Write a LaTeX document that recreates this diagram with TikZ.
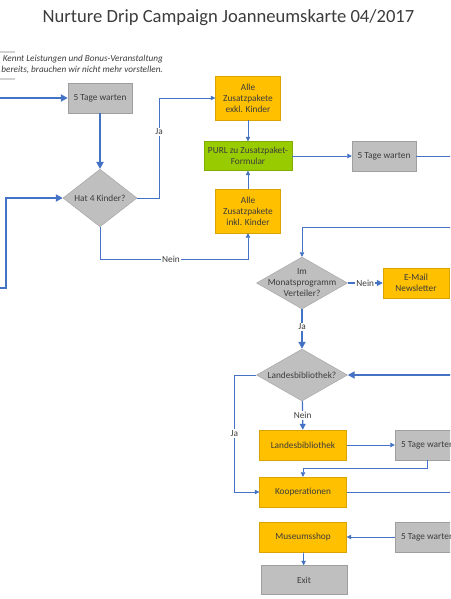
\documentclass[tikz,border=0pt]{standalone}
\usepackage{fontspec}
\setmainfont{Carlito}
\usetikzlibrary{shapes.geometric,arrows.meta}

\definecolor{lineblue}{RGB}{68,114,196}
\definecolor{boxyellow}{RGB}{255,192,0}
\definecolor{boxgray}{RGB}{191,191,191}
\definecolor{boxgreen}{RGB}{153,204,0}
\definecolor{textgray}{RGB}{60,60,60}

\begin{document}
\begin{tikzpicture}[x=1pt,y=-1pt,font=\fontsize{9.3}{11}\selectfont,text=textgray]

    \tikzstyle{waitbox}=[rectangle,draw=gray!75,fill=boxgray,minimum width=64pt,minimum height=30pt,inner sep=1pt]
    \tikzstyle{offerbox}=[rectangle,draw=boxyellow!85!black,fill=boxyellow,minimum width=87pt,minimum height=30pt,inner sep=1pt,align=center]
    \tikzstyle{purlbox}=[rectangle,draw=boxgreen!85!black,fill=boxgreen,minimum width=88pt,minimum height=29pt,inner sep=1pt,align=center]
    \tikzstyle{decision}=[diamond,draw=gray!75,fill=boxgray,minimum width=91pt,minimum height=52pt,inner sep=0pt,align=center]
    \tikzstyle{flow}=[draw=lineblue,line width=0.7pt,-{Triangle[length=4.5pt,width=4.5pt]}]
    \tikzstyle{flowline}=[draw=lineblue,line width=0.7pt]
    \tikzstyle{thickflow}=[draw=lineblue,line width=1.8pt,-{Triangle[length=7pt,width=7pt]}]
    \tikzstyle{midflow}=[draw=lineblue,line width=1.2pt,-{Triangle[length=6pt,width=6pt]}]
    \tikzstyle{lbl}=[fill=white,inner sep=1pt]

    \useasboundingbox (0,0) rectangle (450,599);
    \clip (0,0) rectangle (450,599);

    \node (title) at (228.5,18) {\fontsize{18.6}{21}\selectfont Nurture Drip Campaign Joanneumskarte 04/2017};

    % note on the left
    \draw[gray!35, line width=1.2pt] (-5,52) -- (15,52)
                                     (-5,79) -- (15,79);
    \node[anchor=north east, align=right, inner sep=0pt] (note) at (163,55)
        {\fontsize{9.2}{10.5}\selectfont\itshape Kennt Leistungen und Bonus-Veranstaltung\\
         \fontsize{9.2}{10.5}\selectfont\itshape bereits, brauchen wir nicht mehr vorstellen.};

    % first column
    \node[waitbox] (wait1) at (100,98) {5 Tage warten};
    \node[decision, minimum width=74pt] (kinder) at (100,198) {Hat 4 Kinder?};

    % offers
    \node[offerbox, minimum width=65pt, minimum height=44pt] (exkl) at (248,98) {Alle\\Zusatzpakete\\exkl. Kinder};
    \node[purlbox] (purl) at (248,156) {PURL zu Zusatzpaket-\\Formular};
    \node[offerbox, minimum width=65pt, minimum height=44pt] (inkl) at (248,211) {Alle\\Zusatzpakete\\inkl. Kinder};
    \node[waitbox] (wait2) at (384,156) {5 Tage warten};

    % second column
    \node[decision, label={[align=center]center:Im\\Monatsprogramm\\Verteiler?}] (monat) at (302,283) {};
    \node[offerbox, minimum width=66pt] (news) at (416,283) {E-Mail\\Newsletter};
    \node[decision, label={center:Landesbibliothek?}] (landq) at (302,375) {};
    \node[offerbox] (landb) at (303,445) {Landesbibliothek};
    \node[waitbox, minimum width=65pt] (wait3) at (427.5,445) {5 Tage warten};
    \node[offerbox] (koop) at (303,492) {Kooperationen};
    \node[offerbox] (shop) at (303,537) {Museumsshop};
    \node[waitbox, minimum width=65pt] (wait4) at (427.5,537) {5 Tage warten};
    \node[waitbox, minimum width=86pt, minimum height=29pt] (exit) at (304,580) {Exit};

    % ends running off the page
    \coordinate (inA) at (-3,98);
    \coordinate (inB) at (-3,288);
    \coordinate (bendB) at (6,288);
    \coordinate (outA) at (453,156);
    \coordinate (inC) at (453,227);
    \coordinate (inD) at (453,375);
    \coordinate (outB) at (453,492);

    \draw[thickflow] (inA) -- (wait1);
    \draw[thickflow] (inB) -- (bendB) |- (kinder.west);
    \draw[thickflow] (wait1) -- (kinder);
    \draw[flow] (kinder.east) -- ++(22,0) |- node[lbl,pos=0.33] {Ja} (exkl.west);
    \draw[flow] (kinder.south) -- ++(0,32) -| node[lbl,pos=0.24] {Nein} (inkl.south);
    \draw[flow] (exkl) -- (purl);
    \draw[flow] (inkl) -- (purl);
    \draw[flow] (purl) -- (wait2);
    \draw[flowline] (wait2) -- (outA);

    \draw[flow] (inC) -| (monat.north);
    \draw[midflow] (monat) -- node[lbl] {Nein} (news);
    \draw[thickflow] (monat) -- node[lbl,pos=0.45] {Ja} (landq);
    \draw[thickflow] (inD) -- (landq.east);
    \draw[flow] (landq.west) -- ++(-22,0) |- node[lbl,pos=0.25] {Ja} (koop.west);
    \draw[midflow] (landq) -- node[lbl] {Nein} (landb);
    \draw[flow] (landb) -- (wait3);
    \draw[flow] (wait3.south) -- ++(0,8) -| (koop.north);
    \draw[flowline] (koop) -- (outB);
    \draw[flow] (wait4) -- (shop);
    \draw[flow] (shop) -- (exit);
\end{tikzpicture}
\end{document}
